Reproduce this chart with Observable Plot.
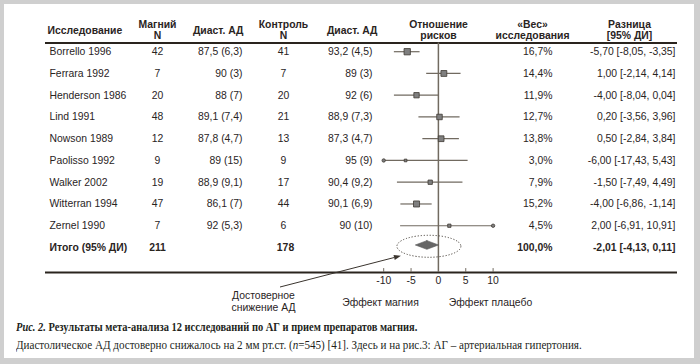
<!DOCTYPE html>
<html><head><meta charset="utf-8">
<script src="https://cdn.jsdelivr.net/npm/d3@7"></script>
<script src="https://cdn.jsdelivr.net/npm/@observablehq/plot@0.6"></script>
<style>
html,body{margin:0;padding:0;background:#cfcfcf;}
#wrap{position:relative;width:700px;height:364px;background:#cfcfcf;overflow:hidden;}
#card{position:absolute;left:4px;top:4px;width:690px;height:354px;background:#fff;}
#chart{position:absolute;left:0;top:0;}
#cap{position:absolute;left:16px;top:318px;font-family:"Liberation Serif",serif;font-size:12px;color:#231f1b;line-height:18px;white-space:nowrap;}
#cap div{transform-origin:0 0;}
#cap1{transform:scaleX(0.87);}
#cap2{transform:scaleX(0.925);}
</style></head><body>
<div id="wrap"><div id="card"></div><div id="chart"></div>
<div id="cap"><div id="cap1"><b><i>Рис. 2.</i> Результаты мета-анализа 12 исследований по АГ и прием препаратов магния.</b></div><div id="cap2">Диастолическое АД достоверно снижалось на 2 мм рт.ст. (<i>n</i>=545) [41]. Здесь и на рис.3: АГ – артериальная гипертония.</div></div>
</div>
<script>
// ---- data ----
const studies = ["Borrello 1996","Ferrara 1992","Henderson 1986","Lind 1991","Nowson 1989","Paolisso 1992","Walker 2002","Witterran 1994","Zernel 1990"];
const mgN = [42,7,20,48,12,9,19,47,7];
const mgDBP = ["87,5 (6,3)","90 (3)","88 (7)","89,1 (7,4)","87,8 (4,7)","89 (15)","88,9 (9,1)","86,1 (7)","92 (5,3)"];
const ctrlN = [41,7,20,21,13,9,17,44,6];
const ctrlDBP = ["93,2 (4,5)","89 (3)","92 (6)","88,9 (7,3)","87,3 (4,7)","95 (9)","90,4 (9,2)","90,1 (6,9)","90 (10)"];
const weight = [16.7,14.4,11.9,12.7,13.8,3.0,7.9,15.2,4.5];
const diff = [-5.70,1.00,-4.00,0.20,0.50,-6.00,-1.50,-4.00,2.00];
const ciLow = [-8.05,-2.14,-8.04,-3.56,-2.84,-17.43,-7.49,-6.86,-6.91];
const ciHigh = [-3.35,4.14,0.04,3.96,3.84,5.43,4.49,-1.14,10.91];
const totalLabel = "Итого (95% ДИ)";
const totalMgN = 211, totalCtrlN = 178, totalWeight = 100.0;
const totalDiff = -2.01, totalLow = -4.13, totalHigh = 0.11;
const xTicks = [-10,-5,0,5,10];
const headers = ["Исследование","Магний\nN","Диаст. АД","Контроль\nN","Диаст. АД","Отношение\nрисков","«Вес»\nисследования","Разница\n[95% ДИ]"];
const sideLabels = ["Эффект магния","Эффект плацебо"];
const noteLabel = "Достоверное\nснижение АД";

// ---- helpers ----
const dec = (v, n) => v.toFixed(n).replace(".", ",");
const ciText = (d, l, h) => `${dec(d,2)} [${dec(l,2)}, ${dec(h,2)}]`;
const rows = studies.map((s, i) => ({i, study: s, mgN: mgN[i], mgDBP: mgDBP[i], ctrlN: ctrlN[i], ctrlDBP: ctrlDBP[i],
  weight: weight[i], diff: diff[i], lo: ciLow[i], hi: ciHigh[i]}));
const TOTAL_ROW = rows.length;
const totalRow = [{i: TOTAL_ROW, study: totalLabel, mgN: totalMgN, ctrlN: totalCtrlN, weight: totalWeight, diff: totalDiff, lo: totalLow, hi: totalHigh}];
const [xMin, xMax] = [xTicks[0], xTicks[xTicks.length-1]];
const clippedEnds = [];
rows.forEach(r => { if (r.lo < xMin) clippedEnds.push({i: r.i, x: xMin}); if (r.hi > xMax) clippedEnds.push({i: r.i, x: xMax}); });

// ---- layout / style ----
const FONT = "'Liberation Sans', Arial, sans-serif";
const FS = 10.4;
const INK = "#2a241e";
const LINE = "#716a60";
const ML = 45, MR = 23, MT = 42.5, MB = 48, H = 320;
const ROW_TOP = -0.4, ROW_BOTTOM = 10.15;
const col = {study: 49, mgN: 157, mgDBP: 242, ctrlN: 283, ctrlDBP: 372, weight: 552, diff: 675};
const headerPos = [[47,"start"],[157,"middle"],[243,"end"],[283,"middle"],[377,"end"],[438,"middle"],[532,"middle"],[629,"middle"]];

const textCol = (data, text, px, anchor, extra = {}) => Plot.text(data, {
  y: "i", text, frameAnchor: "left", dx: px - ML, textAnchor: anchor, lineAnchor: "middle",
  fontSize: FS, fill: INK, ...extra});

const dh = 0.2;
const diamond = [
  {y: TOTAL_ROW - dh, x1: totalDiff, x2: totalDiff},
  {y: TOTAL_ROW, x1: totalLow, x2: totalHigh},
  {y: TOTAL_ROW + dh, x1: totalDiff, x2: totalDiff}
];

function annotation(index, scales) {
  const g = d3.create("svg:g");
  const cx = scales.x(totalDiff) + 2, cy = scales.y(TOTAL_ROW) - 0.7;
  g.append("ellipse").attr("cx", cx).attr("cy", cy).attr("rx", 32).attr("ry", 11)
    .attr("fill", "none").attr("stroke", "#4a443d").attr("stroke-width", 1).attr("stroke-dasharray", "1.2,1.8");
  const x1 = 280, y1 = 287, x2 = cx - 28, y2 = cy + 9.5;
  const a = Math.atan2(y2 - y1, x2 - x1), L = 7, W = 2.6;
  const bx = x2 - L * Math.cos(a), by = y2 - L * Math.sin(a);
  g.append("line").attr("x1", x1).attr("y1", y1).attr("x2", bx).attr("y2", by)
    .attr("stroke", "#3a342e").attr("stroke-width", 1);
  g.append("path").attr("d", `M${x2},${y2}L${bx - W*Math.sin(a)},${by + W*Math.cos(a)}L${bx + W*Math.sin(a)},${by - W*Math.cos(a)}Z`)
    .attr("fill", "#3a342e");
  return g.node();
}

const marks = [
  Plot.ruleY([ROW_TOP], {stroke: INK, strokeWidth: 2}),
  Plot.ruleY([ROW_BOTTOM], {stroke: INK, strokeWidth: 1.8}),
  Plot.ruleX([0], {stroke: LINE, strokeWidth: 1.5}),
  Plot.ruleX(xTicks.filter(t => t !== 0), {y1: ROW_BOTTOM, y2: ROW_BOTTOM - 0.18, stroke: LINE, strokeWidth: 1}),
  ...headers.map((h, k) => Plot.text([h], {frameAnchor: "top-left", dx: headerPos[k][0] - ML, dy: (h.includes("\n") ? 29.1 : 29.8) - MT,
    text: d => d, textAnchor: headerPos[k][1], lineAnchor: "middle", lineHeight: 1.06, fontWeight: "bold", fontSize: FS, fill: INK})),
  textCol(rows, "study", col.study, "start"),
  textCol(rows, "mgN", col.mgN, "middle"),
  textCol(rows, "mgDBP", col.mgDBP, "end"),
  textCol(rows, "ctrlN", col.ctrlN, "middle"),
  textCol(rows, "ctrlDBP", col.ctrlDBP, "end"),
  textCol(rows, d => dec(d.weight, 1) + "%", col.weight, "end"),
  textCol(rows, d => ciText(d.diff, d.lo, d.hi), col.diff, "end"),
  textCol(totalRow, "study", col.study, "start", {fontWeight: "bold"}),
  textCol(totalRow, "mgN", col.mgN, "middle", {fontWeight: "bold"}),
  textCol(totalRow, "ctrlN", col.ctrlN + 2, "middle", {fontWeight: "bold"}),
  textCol(totalRow, d => dec(d.weight, 1) + "%", col.weight, "end", {fontWeight: "bold"}),
  textCol(totalRow, d => ciText(d.diff, d.lo, d.hi), col.diff, "end", {fontWeight: "bold"}),
  Plot.ruleY(rows, {y: "i", x1: d => Math.max(d.lo, xMin), x2: d => Math.min(d.hi, xMax), stroke: LINE, strokeWidth: 1.2}),
  Plot.dot(clippedEnds, {x: "x", y: "i", r: 1.7, fill: "#7f7f7f", stroke: "#3f3a34", strokeWidth: 0.8}),
  Plot.dot(rows, {x: "diff", y: "i", r: "weight", symbol: "square", fill: "#7f7f7f", stroke: "#3f3a34", strokeWidth: 0.8}),
  Plot.areaX(diamond, {y: "y", x1: "x1", x2: "x2", fill: "#666666", stroke: "#555555", strokeWidth: 0.6, dy: -2}),
  annotation,
  Plot.text([sideLabels[0]], {frameAnchor: "bottom-left", dx: 380 - ML, dy: 30, text: d => d, textAnchor: "middle", lineAnchor: "middle", fontSize: FS, fill: INK}),
  Plot.text([sideLabels[1]], {frameAnchor: "bottom-left", dx: 490 - ML, dy: 30, text: d => d, textAnchor: "middle", lineAnchor: "middle", fontSize: FS, fill: INK}),
  Plot.text([noteLabel], {frameAnchor: "bottom-left", dx: 263 - ML, dy: 28.5, text: d => d, textAnchor: "middle", lineAnchor: "middle", lineHeight: 1.2, fontSize: FS, fill: INK})
];

const chart = Plot.plot({
  width: 700, height: H,
  marginTop: MT, marginBottom: MB, marginLeft: ML, marginRight: MR,
  style: {background: "transparent", fontFamily: FONT, fontSize: FS + "px", color: INK, overflow: "visible"},
  x: {domain: [xMin, xMax], range: [383.2, 492.6], ticks: xTicks, tickSize: 0, tickPadding: 4, tickFormat: d => String(d), label: null},
  y: {domain: [ROW_TOP, ROW_BOTTOM], range: [MT, H - MB], axis: null},
  r: {type: "sqrt", domain: [0, 17], range: [0, 3.6]},
  marks
});
document.getElementById("chart").appendChild(chart);
</script>
</body></html>
